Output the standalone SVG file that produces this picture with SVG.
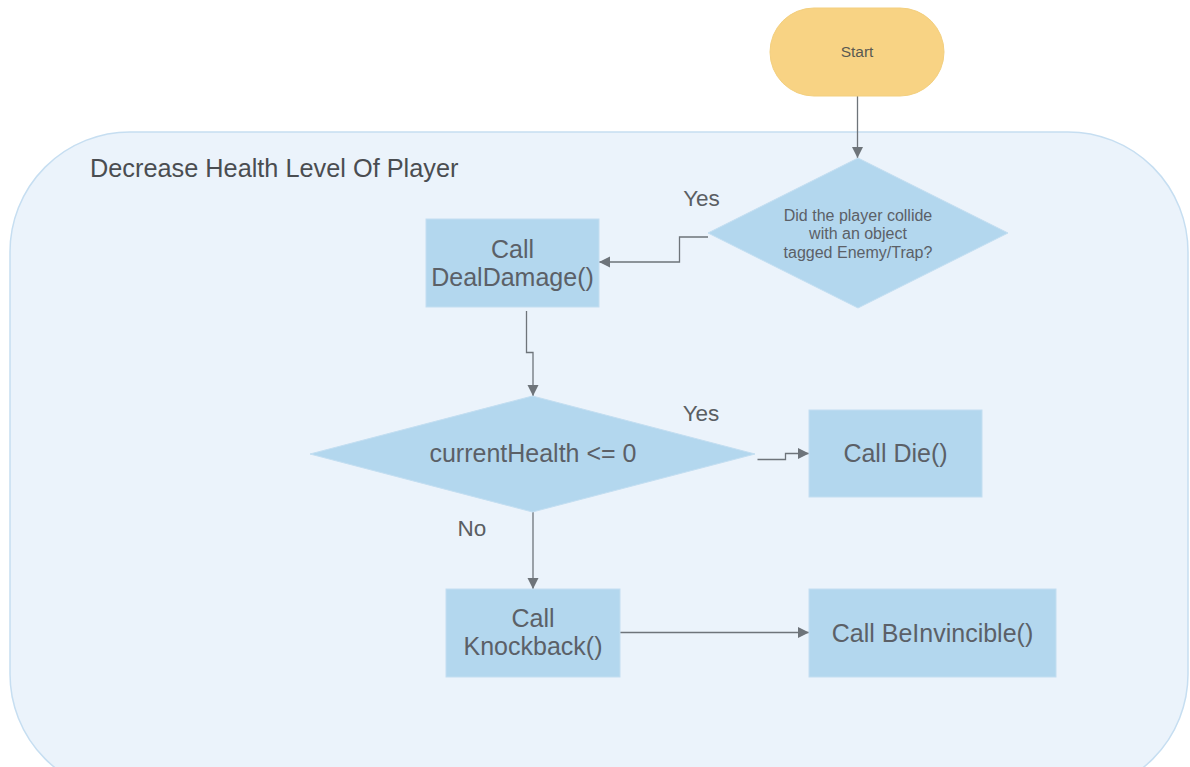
<svg xmlns="http://www.w3.org/2000/svg" width="1190" height="767" viewBox="0 0 1190 767">
  <style>
    text { font-family: "Liberation Sans", Arial, sans-serif; fill: #5b6067; text-anchor: middle; }
    .box { fill: #b3d7ee; stroke: #c3def1; stroke-width: 1; }
    .conn { fill: none; stroke: #6e747a; stroke-width: 1.3; }
    .lbl { font-size: 22.5px; fill: #5a5e63; }
    .big { font-size: 25px; }
  </style>
  <defs>
    <marker id="arrow" markerUnits="userSpaceOnUse" markerWidth="12" markerHeight="12" refX="11" refY="5.5" orient="auto">
      <path d="M0,0 L11,5.5 L0,11 z" fill="#6e747a"/>
    </marker>
  </defs>

  <rect width="1190" height="767" fill="#ffffff"/>

  <!-- swimlane container -->
  <g id="container">
    <rect x="10" y="132" width="1178" height="662" rx="120" ry="120" fill="#ebf3fb" stroke="#c6def1" stroke-width="1.5"/>
    <text x="90" y="177" style="text-anchor:start;font-size:25.3px;fill:#4a4d51">Decrease Health Level Of Player</text>
  </g>

  <!-- connectors -->
  <g id="connectors">
    <path class="conn" d="M857.5,96 L857.5,158" marker-end="url(#arrow)"/>
    <path class="conn" d="M708,237 L679.5,237 L679.5,262 L599,262" marker-end="url(#arrow)"/>
    <path class="conn" d="M526.5,311 L526.5,352.5 L533,352.5 L533,396" marker-end="url(#arrow)"/>
    <path class="conn" d="M757.5,459.5 L785.5,459.5 L785.5,453.5 L809,453.5" marker-end="url(#arrow)"/>
    <path class="conn" d="M533,512 L533,589" marker-end="url(#arrow)"/>
    <path class="conn" d="M620,632.5 L809,632.5" marker-end="url(#arrow)"/>
    <text class="lbl" x="701.5" y="206">Yes</text>
    <text class="lbl" x="701" y="421">Yes</text>
    <text class="lbl" x="472" y="536">No</text>
  </g>

  <g id="start">
    <rect x="770" y="8" width="174" height="88" rx="44" ry="44" fill="#f8d384" stroke="#f3cf7e" stroke-width="1"/>
    <text x="857" y="57" style="font-size:15.5px;fill:#5a5a52">Start</text>
  </g>

  <g id="collision-check">
    <polygon class="box" points="858,158 1008,233 858,308 708,233"/>
    <text x="858" y="220.5" style="font-size:16px">Did the player collide</text>
    <text x="858" y="239" style="font-size:16px">with an object</text>
    <text x="858" y="258" style="font-size:16px">tagged Enemy/Trap?</text>
  </g>

  <g id="deal-damage">
    <rect class="box" x="426" y="219" width="173" height="88"/>
    <text class="big" x="512.5" y="258">Call</text>
    <text class="big" x="512.5" y="286">DealDamage()</text>
  </g>

  <g id="health-check">
    <polygon class="box" points="532.5,396 755,454 532.5,512 310,454"/>
    <text class="big" x="533" y="462">currentHealth &lt;= 0</text>
  </g>

  <g id="die">
    <rect class="box" x="809" y="410" width="173" height="87"/>
    <text class="big" x="895.5" y="462">Call Die()</text>
  </g>

  <g id="knockback">
    <rect class="box" x="446" y="589" width="174" height="88"/>
    <text class="big" x="533" y="627">Call</text>
    <text class="big" x="533" y="655">Knockback()</text>
  </g>

  <g id="be-invincible">
    <rect class="box" x="809" y="589" width="247" height="88"/>
    <text class="big" x="932.5" y="642">Call BeInvincible()</text>
  </g>
</svg>
